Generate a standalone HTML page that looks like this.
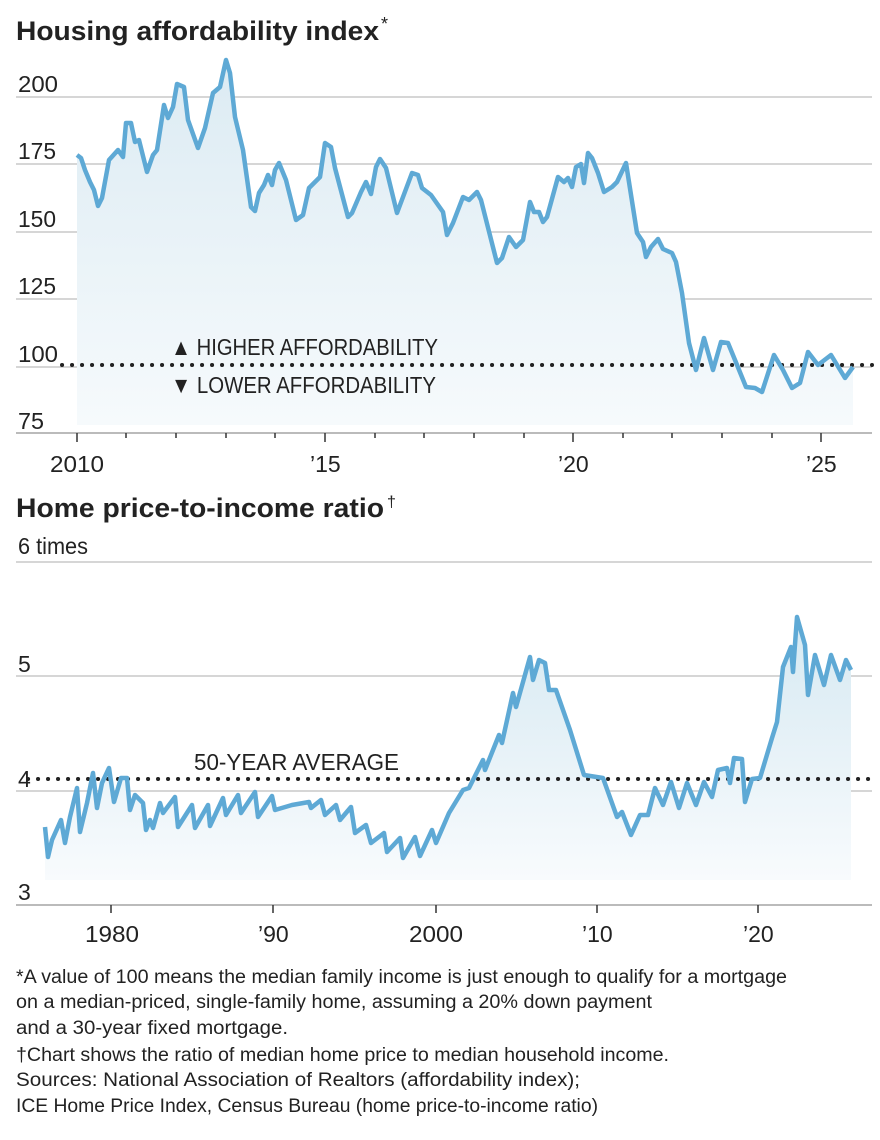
<!DOCTYPE html>
<html><head><meta charset="utf-8"><style>
html,body{margin:0;padding:0;background:#fff}
svg{display:block}
text{font-family:"Liberation Sans",sans-serif;fill:#222}
</style></head><body>
<svg width="880" height="1140" viewBox="0 0 880 1140" xmlns="http://www.w3.org/2000/svg">
<defs>
<linearGradient id="g1" x1="0" y1="0" x2="0" y2="1"><stop offset="0" stop-color="#dcebf3"/><stop offset="1" stop-color="#f6fafc"/></linearGradient>
<linearGradient id="g2" x1="0" y1="0" x2="0" y2="1"><stop offset="0" stop-color="#d6e9f2"/><stop offset="1" stop-color="#f8fbfd"/></linearGradient>
</defs>
<text x="16" y="40" font-size="27" font-weight="bold" textLength="363" lengthAdjust="spacingAndGlyphs">Housing affordability index</text>
<text x="381" y="30" font-size="18">*</text>
<g stroke="#d6d6d6" stroke-width="2">
<line x1="16" y1="97" x2="872" y2="97"/><line x1="16" y1="164" x2="872" y2="164"/>
<line x1="16" y1="232" x2="872" y2="232"/><line x1="16" y1="299" x2="872" y2="299"/>
<line x1="16" y1="367" x2="872" y2="367"/>
</g>
<line x1="16" y1="433" x2="872" y2="433" stroke="#bbb" stroke-width="2"/>
<g font-size="23">
<text x="18" y="92" textLength="40" lengthAdjust="spacingAndGlyphs">200</text><text x="18" y="159" textLength="38" lengthAdjust="spacingAndGlyphs">175</text><text x="18" y="227" textLength="38" lengthAdjust="spacingAndGlyphs">150</text><text x="18" y="294" textLength="38" lengthAdjust="spacingAndGlyphs">125</text><text x="18" y="362" textLength="40" lengthAdjust="spacingAndGlyphs">100</text><text x="18" y="429" textLength="26" lengthAdjust="spacingAndGlyphs">75</text>
<text x="50" y="472" textLength="54" lengthAdjust="spacingAndGlyphs">2010</text><text x="310" y="472">’15</text><text x="558" y="472">’20</text><text x="806" y="472">’25</text>
</g>
<g stroke="#333" stroke-width="1.5">
<line x1="77" y1="433" x2="77" y2="442"/><line x1="325" y1="433" x2="325" y2="442"/><line x1="573" y1="433" x2="573" y2="442"/><line x1="821" y1="433" x2="821" y2="442"/>
<line x1="126" y1="433" x2="126" y2="438"/><line x1="176" y1="433" x2="176" y2="438"/><line x1="226" y1="433" x2="226" y2="438"/><line x1="275" y1="433" x2="275" y2="438"/>
<line x1="375" y1="433" x2="375" y2="438"/><line x1="424" y1="433" x2="424" y2="438"/><line x1="474" y1="433" x2="474" y2="438"/><line x1="524" y1="433" x2="524" y2="438"/>
<line x1="623" y1="433" x2="623" y2="438"/><line x1="672" y1="433" x2="672" y2="438"/><line x1="722" y1="433" x2="722" y2="438"/><line x1="772" y1="433" x2="772" y2="438"/>
</g>
<polygon fill="url(#g1)" points="77,425 77,155 81,158 85,170 90,182 94,190 98,206 102,198 109,160 118,150 123,157 126,123 131,123 135,142 139,140 147,172 153,155 157,150 164,105 168,118 173,107 177,84 184,87 188,120 198,148 205,128 213,93 220,87 226,60 230,73 235,117 243,150 251,207 255,211 259,193 264,185 268,175 272,185 275,170 279,163 286,180 296,220 303,215 309,188 320,177 325,143 331,147 335,168 348,217 352,213 361,192 366,182 371,194 376,167 380,159 386,168 397,213 412,173 418,175 422,188 431,195 443,212 447,235 453,223 463,197 469,200 477,192 481,200 497,263 502,258 509,237 516,247 523,240 530,202 534,212 539,212 543,222 547,217 558,177 564,182 568,178 572,187 576,167 581,164 584,183 588,153 592,158 598,173 604,192 612,187 617,182 626,163 637,233 643,242 646,257 651,247 658,239 663,249 672,253 676,262 682,293 689,343 696,370 704,338 713,370 721,342 728,343 735,360 746,387 755,388 762,392 774,355 783,370 792,388 800,383 808,352 818,365 831,355 845,378 853,367 853,425"/>
<line x1="62" y1="365" x2="872" y2="365" stroke="#222" stroke-width="4" stroke-dasharray="0.1 9.9" stroke-linecap="round"/>
<polyline fill="none" stroke="#5ea9d5" stroke-width="4.5" stroke-linejoin="round" points="77,155 81,158 85,170 90,182 94,190 98,206 102,198 109,160 118,150 123,157 126,123 131,123 135,142 139,140 147,172 153,155 157,150 164,105 168,118 173,107 177,84 184,87 188,120 198,148 205,128 213,93 220,87 226,60 230,73 235,117 243,150 251,207 255,211 259,193 264,185 268,175 272,185 275,170 279,163 286,180 296,220 303,215 309,188 320,177 325,143 331,147 335,168 348,217 352,213 361,192 366,182 371,194 376,167 380,159 386,168 397,213 412,173 418,175 422,188 431,195 443,212 447,235 453,223 463,197 469,200 477,192 481,200 497,263 502,258 509,237 516,247 523,240 530,202 534,212 539,212 543,222 547,217 558,177 564,182 568,178 572,187 576,167 581,164 584,183 588,153 592,158 598,173 604,192 612,187 617,182 626,163 637,233 643,242 646,257 651,247 658,239 663,249 672,253 676,262 682,293 689,343 696,370 704,338 713,370 721,342 728,343 735,360 746,387 755,388 762,392 774,355 783,370 792,388 800,383 808,352 818,365 831,355 845,378 853,367"/>
<text x="171" y="355" font-size="23" textLength="267" lengthAdjust="spacingAndGlyphs">▲ HIGHER AFFORDABILITY</text>
<text x="171" y="393" font-size="23" textLength="265" lengthAdjust="spacingAndGlyphs">▼ LOWER AFFORDABILITY</text>
<text x="16" y="517" font-size="27" font-weight="bold" textLength="368" lengthAdjust="spacingAndGlyphs">Home price-to-income ratio</text>
<text x="387" y="507" font-size="16">†</text>
<text x="18" y="554" font-size="23" textLength="70" lengthAdjust="spacingAndGlyphs">6 times</text>
<g stroke="#d6d6d6" stroke-width="2">
<line x1="16" y1="562" x2="872" y2="562"/><line x1="16" y1="676" x2="872" y2="676"/><line x1="16" y1="791" x2="872" y2="791"/>
</g>
<line x1="16" y1="905" x2="872" y2="905" stroke="#bbb" stroke-width="2"/>
<g font-size="23">
<text x="18" y="672">5</text><text x="18" y="787">4</text><text x="18" y="900">3</text>
<text x="85" y="942" textLength="54" lengthAdjust="spacingAndGlyphs">1980</text><text x="258" y="942">’90</text><text x="409" y="942" textLength="54" lengthAdjust="spacingAndGlyphs">2000</text><text x="582" y="942">’10</text><text x="743" y="942">’20</text>
</g>
<g stroke="#333" stroke-width="1.5">
<line x1="111" y1="905" x2="111" y2="913"/><line x1="273" y1="905" x2="273" y2="913"/><line x1="436" y1="905" x2="436" y2="913"/><line x1="597" y1="905" x2="597" y2="913"/><line x1="758" y1="905" x2="758" y2="913"/>
</g>
<polygon fill="url(#g2)" points="45,880 45,827 48,857 52,840 61,820 65,843 70,817 77,788 80,832 87,803 93,773 97,808 102,783 109,768 114,802 121,778 127,778 130,810 135,795 143,803 146,830 150,820 153,828 160,803 163,813 175,797 178,827 192,805 195,828 208,805 210,826 223,798 226,815 238,795 241,813 255,792 258,817 272,796 275,810 292,805 309,802 311,808 321,800 325,815 336,805 340,820 351,807 355,833 366,825 371,843 384,833 387,852 400,838 403,858 415,837 420,856 432,830 436,843 449,813 463,790 469,788 483,760 485,770 499,735 502,743 513,693 516,707 530,657 533,680 539,660 545,663 549,690 556,690 570,730 584,775 603,778 617,817 622,812 631,835 640,815 648,815 655,788 663,805 671,782 679,808 687,783 696,805 704,782 712,797 718,770 727,768 730,783 734,758 742,759 745,802 752,779 760,778 772,738 777,722 783,667 791,647 793,672 797,617 805,645 808,695 815,655 824,685 831,655 840,680 846,660 851,670 851,880"/>
<line x1="28" y1="779" x2="872" y2="779" stroke="#222" stroke-width="4" stroke-dasharray="0.1 9.9" stroke-linecap="round"/>
<polyline fill="none" stroke="#5ea9d5" stroke-width="4.5" stroke-linejoin="round" points="45,827 48,857 52,840 61,820 65,843 70,817 77,788 80,832 87,803 93,773 97,808 102,783 109,768 114,802 121,778 127,778 130,810 135,795 143,803 146,830 150,820 153,828 160,803 163,813 175,797 178,827 192,805 195,828 208,805 210,826 223,798 226,815 238,795 241,813 255,792 258,817 272,796 275,810 292,805 309,802 311,808 321,800 325,815 336,805 340,820 351,807 355,833 366,825 371,843 384,833 387,852 400,838 403,858 415,837 420,856 432,830 436,843 449,813 463,790 469,788 483,760 485,770 499,735 502,743 513,693 516,707 530,657 533,680 539,660 545,663 549,690 556,690 570,730 584,775 603,778 617,817 622,812 631,835 640,815 648,815 655,788 663,805 671,782 679,808 687,783 696,805 704,782 712,797 718,770 727,768 730,783 734,758 742,759 745,802 752,779 760,778 772,738 777,722 783,667 791,647 793,672 797,617 805,645 808,695 815,655 824,685 831,655 840,680 846,660 851,670"/>
<text x="194" y="770" font-size="23" textLength="205" lengthAdjust="spacingAndGlyphs">50-YEAR AVERAGE</text>
<g font-size="19">
<text x="16" y="983" textLength="771" lengthAdjust="spacingAndGlyphs">*A value of 100 means the median family income is just enough to qualify for a mortgage</text>
<text x="16" y="1008" textLength="636" lengthAdjust="spacingAndGlyphs">on a median-priced, single-family home, assuming a 20% down payment</text>
<text x="16" y="1034" textLength="272" lengthAdjust="spacingAndGlyphs">and a 30-year fixed mortgage.</text>
<text x="16" y="1061" textLength="653" lengthAdjust="spacingAndGlyphs">†Chart shows the ratio of median home price to median household income.</text>
<text x="16" y="1086" textLength="564" lengthAdjust="spacingAndGlyphs">Sources: National Association of Realtors (affordability index);</text>
<text x="16" y="1112" textLength="582" lengthAdjust="spacingAndGlyphs">ICE Home Price Index, Census Bureau (home price-to-income ratio)</text>
</g>
</svg>
</body></html>
